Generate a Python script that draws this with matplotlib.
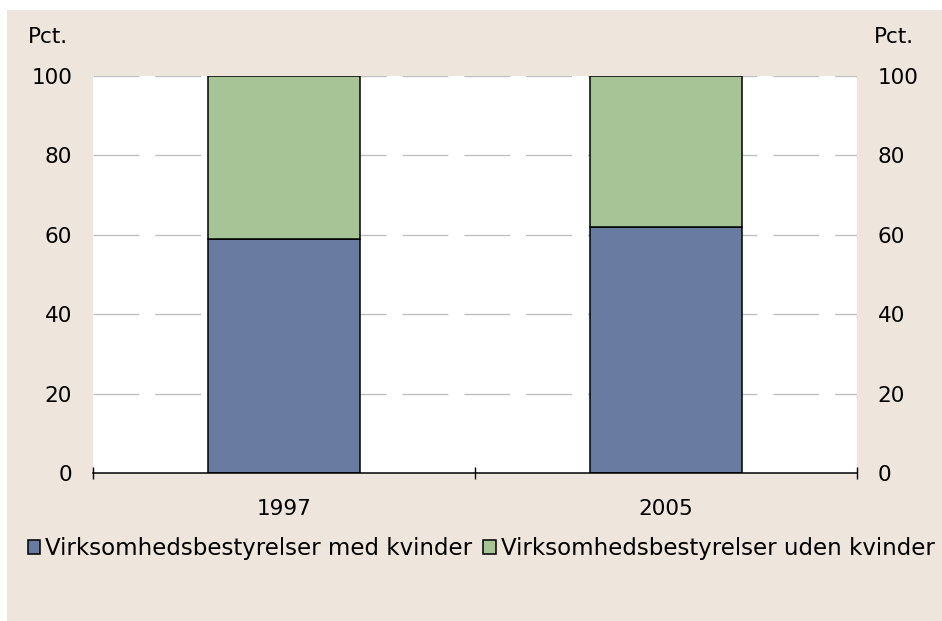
import matplotlib
matplotlib.use("Agg")
import matplotlib.pyplot as plt
from matplotlib.patches import Rectangle

years = ["1997", "2005"]
med_kvinder = [59, 62]
uden_kvinder = [41, 38]
labels = ["Virksomhedsbestyrelser med kvinder", "Virksomhedsbestyrelser uden kvinder"]
yticks = [0, 20, 40, 60, 80, 100]

bg = "#EEE5DC"
blue = "#6A7BA2"
green = "#A6C496"

plt.rcParams["font.family"] = "DejaVu Sans"
plt.rcParams["font.size"] = 15.5

fig = plt.figure(figsize=(9.42, 6.21), dpi=100, facecolor="white")
fig.patches.append(Rectangle((7 / 942, 0), 1, 1 - 10 / 621, transform=fig.transFigure,
                             facecolor=bg, edgecolor="none", zorder=-10))

ax = fig.add_axes([93 / 942, 1 - 473 / 621, (857 - 93) / 942, (473 - 76) / 621])
ax.set_facecolor("white")

x = range(len(years))
b1 = ax.bar(x, med_kvinder, width=0.4, color=blue, edgecolor="black", linewidth=1.1, zorder=3)
b2 = ax.bar(x, uden_kvinder, width=0.4, bottom=med_kvinder, color=green,
            edgecolor="black", linewidth=1.1, zorder=3)

ax.set_xlim(-0.5, 1.5)
ax.set_ylim(0, 100)
ax.set_yticks(yticks)
for v in yticks[1:]:
    ax.axhline(v, color="#C0C0C0", lw=1.0, dashes=(33, 11.5), zorder=1)

ax.set_xticks(list(x))
ax.set_xticklabels(years)
ax.set_xticks([-0.5, 0.5, 1.5], minor=True)
ax.tick_params(axis="x", which="major", length=0, pad=19)
ax.tick_params(axis="x", which="minor", direction="inout", length=8, width=1)
ax.tick_params(axis="y", which="both", length=0, labelleft=True, labelright=True, pad=15)

for s in ["top", "left", "right"]:
    ax.spines[s].set_visible(False)
ax.spines["bottom"].set_linewidth(1.1)
ax.spines["bottom"].set_zorder(4)

fig.text(28 / 942, 1 - 37 / 621, "Pct.", ha="left", va="center")
fig.text(874 / 942, 1 - 37 / 621, "Pct.", ha="left", va="center")

fig.legend([b1, b2], labels, loc="center", bbox_to_anchor=(481 / 942, 1 - 549 / 621),
           ncol=2, frameon=False, fontsize=16.5, handlelength=0.55, handleheight=0.55,
           handletextpad=0.2, columnspacing=0.5, borderpad=0)

fig.savefig("out.png", dpi=100, facecolor=fig.get_facecolor())
